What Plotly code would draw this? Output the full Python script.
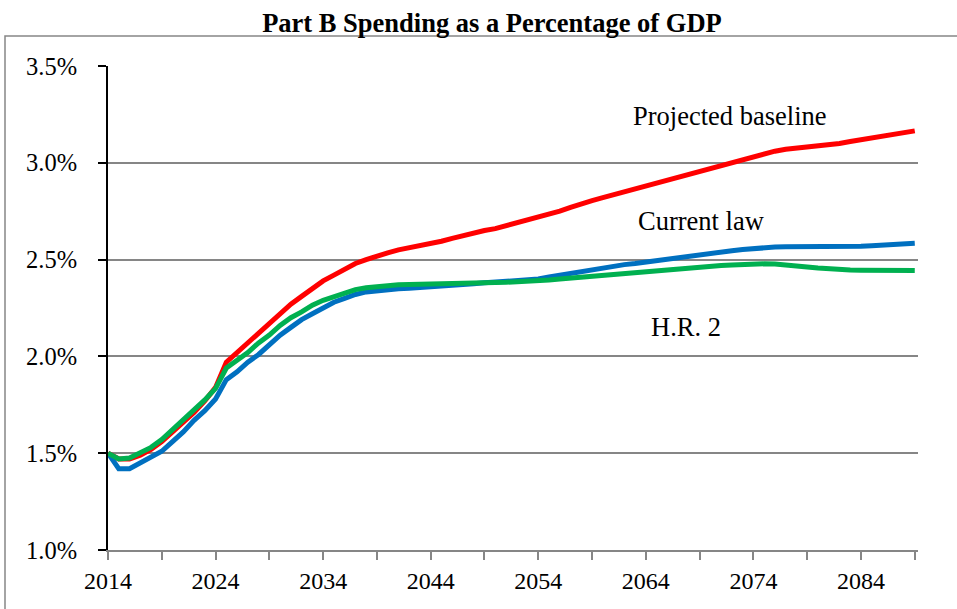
import plotly.graph_objects as go

years = list(range(2014, 2090))

projected_baseline = [
    1.50, 1.47, 1.47, 1.49, 1.52, 1.56, 1.61, 1.66, 1.71, 1.77,
    1.84, 1.97, 2.02, 2.07, 2.12, 2.17, 2.22, 2.27, 2.31, 2.35,
    2.39, 2.42, 2.45, 2.48, 2.50, 2.52, 2.535, 2.55, 2.56, 2.57,
    2.58, 2.595, 2.61, 2.625, 2.64, 2.65, 2.66, 2.675, 2.69, 2.70,
    2.715, 2.73, 2.75, 2.77, 2.79, 2.805, 2.82, 2.835, 2.85, 2.865,
    2.88, 2.90, 2.915, 2.93, 2.945, 2.96, 2.975, 2.99, 3.005, 3.02,
    3.035, 3.05, 3.06, 3.07, 3.075, 3.08, 3.09, 3.095, 3.10, 3.11,
    3.12, 3.13, 3.14, 3.15, 3.16, 3.165,
]

current_law = [
    1.50, 1.42, 1.42, 1.45, 1.48, 1.51, 1.56, 1.61, 1.67, 1.72,
    1.78, 1.88, 1.92, 1.97, 2.01, 2.06, 2.11, 2.15, 2.19, 2.22,
    2.25, 2.28, 2.30, 2.32, 2.333, 2.34, 2.345, 2.35, 2.352, 2.355,
    2.358, 2.362, 2.366, 2.37, 2.375, 2.38, 2.383, 2.387, 2.39, 2.395,
    2.40, 2.41, 2.42, 2.43, 2.44, 2.45, 2.46, 2.467, 2.474, 2.48,
    2.488, 2.495, 2.503, 2.51, 2.518, 2.525, 2.532, 2.54, 2.546, 2.552,
    2.558, 2.562, 2.565, 2.566, 2.566, 2.565, 2.565, 2.565, 2.566, 2.567,
    2.569, 2.572, 2.575, 2.578, 2.582, 2.585,
]

hr2 = [
    1.50, 1.47, 1.475, 1.50, 1.53, 1.57, 1.62, 1.67, 1.72, 1.775,
    1.835, 1.94, 1.98, 2.02, 2.07, 2.11, 2.16, 2.20, 2.23, 2.265,
    2.29, 2.31, 2.33, 2.345, 2.355, 2.362, 2.367, 2.37, 2.372, 2.374,
    2.375, 2.377, 2.378, 2.38, 2.38, 2.381, 2.382, 2.383, 2.385, 2.387,
    2.39, 2.395, 2.40, 2.405, 2.41, 2.415, 2.42, 2.425, 2.43, 2.435,
    2.44, 2.445, 2.45, 2.455, 2.458, 2.462, 2.466, 2.469, 2.472, 2.475,
    2.477, 2.478, 2.477, 2.474, 2.468, 2.462, 2.457, 2.452, 2.448, 2.446,
    2.445, 2.444, 2.444, 2.444, 2.444, 2.444,
]

x_tickvals = list(range(2014, 2090, 5))
x_ticktext = [str(v) if (v - 2014) % 10 == 0 else "" for v in x_tickvals]
y_tickvals = [1.0, 1.5, 2.0, 2.5, 3.0, 3.5]
y_ticktext = ["1.0%", "1.5%", "2.0%", "2.5%", "3.0%", "3.5%"]

FONT = "Liberation Serif, Times New Roman, serif"

fig = go.Figure()
fig.add_trace(go.Scatter(x=years, y=projected_baseline, mode="lines",
                         line=dict(color="#FF0000", width=5), name="Projected baseline"))
fig.add_trace(go.Scatter(x=years, y=current_law, mode="lines",
                         line=dict(color="#0070C0", width=5), name="Current law"))
fig.add_trace(go.Scatter(x=years, y=hr2, mode="lines",
                         line=dict(color="#00B050", width=5), name="H.R. 2"))

fig.update_layout(
    width=957, height=609,
    margin=dict(l=108, r=39, t=66, b=59),
    paper_bgcolor="white", plot_bgcolor="white",
    showlegend=False,
    font=dict(family=FONT, size=24, color="black"),
    title=dict(text="<b>Part B Spending as a Percentage of GDP</b>",
               x=0.474, xref="paper", y=1 - 23 / 609, yref="container",
               xanchor="center", yanchor="middle",
               font=dict(family=FONT, size=26.5, color="black")),
    xaxis=dict(range=[2014, 2089.3], tickmode="array", tickvals=x_tickvals,
               ticktext=x_ticktext, showgrid=False, zeroline=False,
               showline=True, linecolor="#868686", linewidth=2,
               ticks="outside", ticklen=8, tickwidth=1.5, tickcolor="#868686",
               tickfont=dict(family=FONT, size=24, color="black")),
    yaxis=dict(range=[1.0, 3.5], tickmode="array", tickvals=y_tickvals,
               ticktext=y_ticktext, showgrid=True, gridcolor="#868686",
               gridwidth=2, zeroline=False, showline=True, linecolor="black",
               linewidth=2, ticks="outside", ticklen=8, tickwidth=2,
               tickcolor="black", ticklabelstandoff=16,
               tickfont=dict(family=FONT, size=24.5, color="black")),
    annotations=[
        dict(text="Projected baseline", x=2071.8, y=3.24, xref="x", yref="y",
             showarrow=False, xanchor="center", yanchor="middle",
             font=dict(family=FONT, size=26.5, color="black")),
        dict(text="Current law", x=2069.2, y=2.70, xref="x", yref="y",
             showarrow=False, xanchor="center", yanchor="middle",
             font=dict(family=FONT, size=26.5, color="black")),
        dict(text="H.R. 2", x=2067.7, y=2.15, xref="x", yref="y",
             showarrow=False, xanchor="center", yanchor="middle",
             font=dict(family=FONT, size=26.5, color="black")),
    ],
    shapes=[
        dict(type="rect", xref="paper", yref="paper",
             x0=(5 - 108) / 810, x1=1.2, y0=-0.3, y1=(550 - 36) / 484,
             line=dict(color="#868686", width=1.5), fillcolor="rgba(0,0,0,0)",
             layer="below"),
    ],
)

fig.write_html("out.html", config={"displayModeBar": False},
               post_script="document.body.style.margin='0';")
